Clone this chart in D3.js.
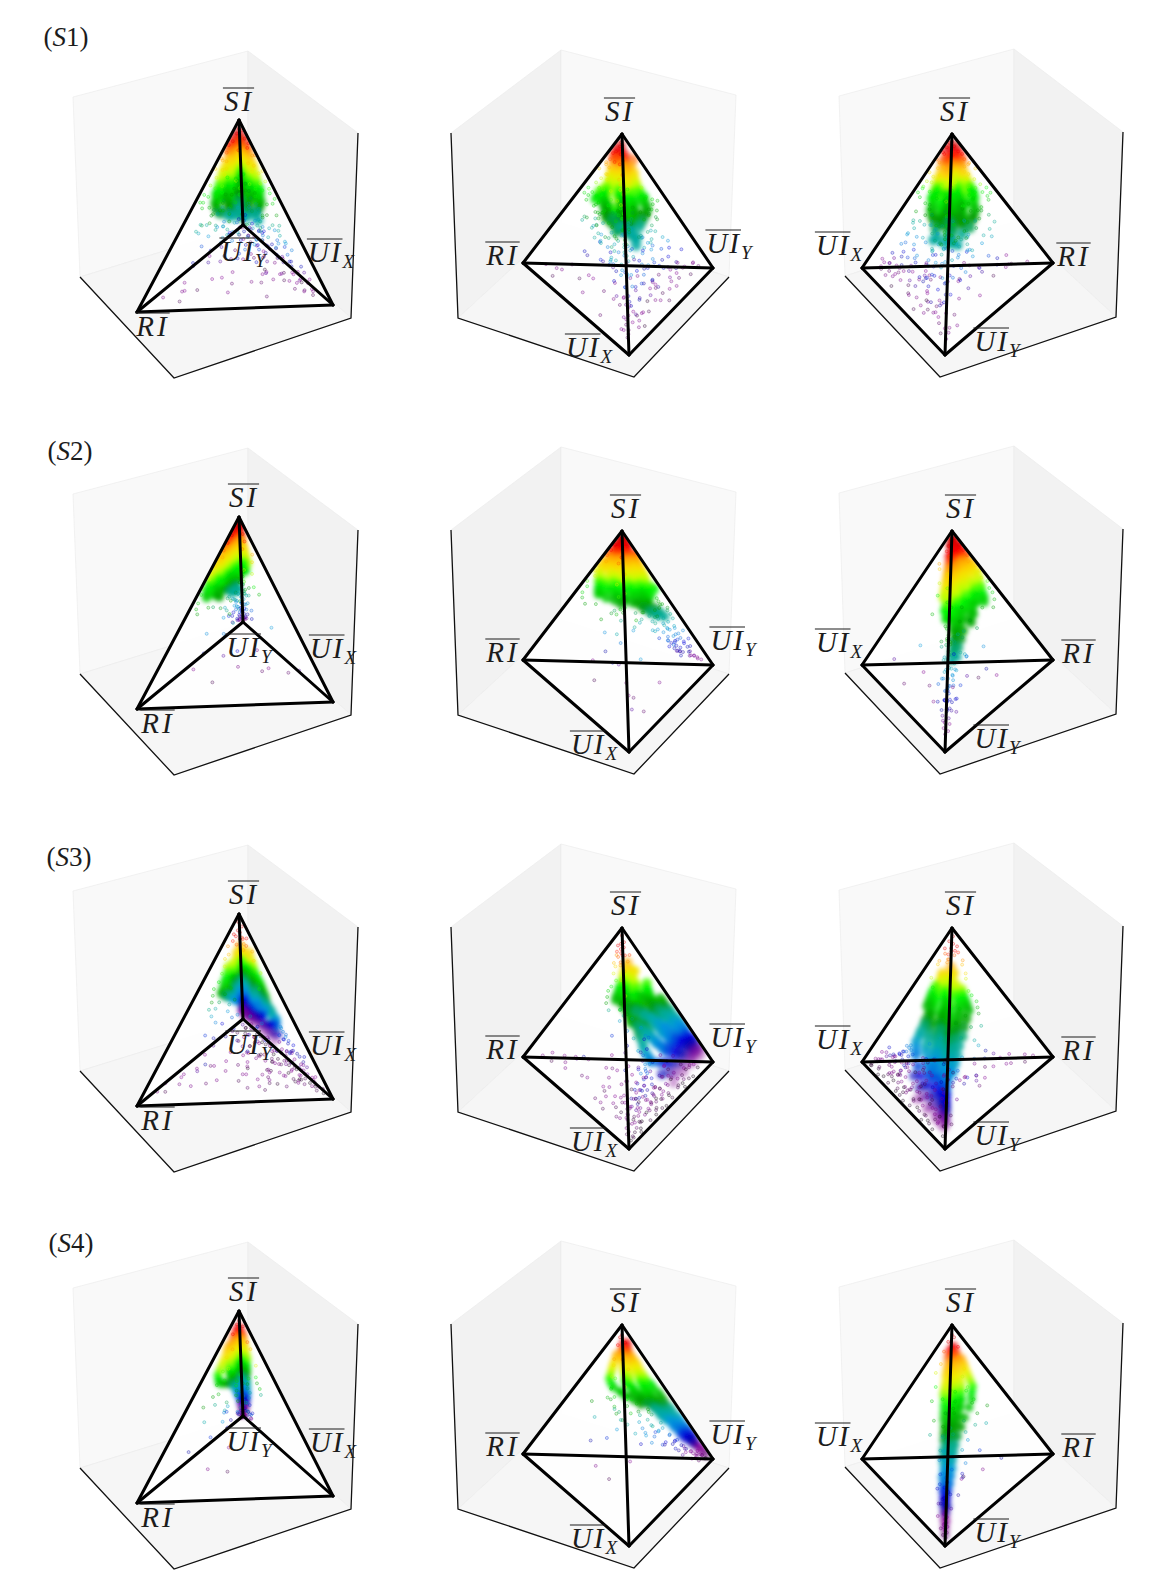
<!DOCTYPE html>
<html>
<head>
<meta charset="utf-8">
<script src="https://cdn.jsdelivr.net/npm/d3@7/dist/d3.min.js"></script>
<style>
  html, body { margin: 0; background: #fff; }
  text { font-family: "Liberation Serif", "Times New Roman", serif; fill: #1c1c1c; }
</style>
</head>
<body>
<div id="chart"></div>
<script>
// every row below is [SI, RI, UIX] in percent, UIY is what is left over
const s1Core = [[93,3,2],[91,2,6],[91,6,2],[89,4,4],[88,8,2],[88,2,9],[86,5,5],[86,9,3],[86,3,4],[84,8,6],[84,3,10],[84,11,2],[84,6,3],[84,4,7],
[82,6,6],[82,2,12],[82,12,2],[82,2,2],[82,9,3],[82,3,8],[78,7,7],[78,3,14],[78,14,4],[78,4,4],[78,10,9],[78,3,9],[78,9,3],[74,9,8],[74,3,16],[74,16,4],[74,4,5],[74,13,10],[74,4,11],[74,11,4],
[71,10,9],[71,3,18],[71,18,4],[71,5,6],[71,14,12],[71,5,13],[71,13,5],[68,11,10],[68,4,20],[68,20,4],[68,5,7],[68,16,14],[68,6,14],[68,14,6],[65,12,11],[65,4,22],[65,22,5],[65,6,7],[65,18,14],[65,6,16],[65,16,6],[65,10,20],[65,22,10],
[62,13,12],[62,5,24],[62,24,5],[62,6,7],[62,20,15],[62,7,17],[62,17,7],[62,9,9],[62,26,9],[62,9,26],[59,14,13],[59,5,26],[59,26,6],[59,6,8],[59,21,16],[59,8,18],[59,18,8],[59,11,11],[59,28,10],[59,10,28],
[57,14,14],[57,6,28],[57,28,6],[57,6,7],[57,22,16],[57,16,24],[57,7,18],[57,18,7],[57,10,10],[57,20,20],[57,30,10],[57,10,30],[54,15,15],[54,7,28],[54,28,7],[54,7,8],[54,23,17],[54,17,23],[54,8,19],[54,19,8],[54,11,11],[54,24,12],
[51,16,16],[51,7,30],[51,30,7],[51,7,8],[51,24,18],[51,18,24],[51,8,20],[51,20,8],[51,12,12],[48,17,17],[48,8,30],[48,30,8],[48,8,9],[48,25,18],[48,18,25],[48,9,21],[48,21,9],[48,12,12],
[45,18,18],[45,10,30],[45,30,10],[45,10,10],[45,24,18],[45,16,26],[45,12,22],[45,22,12],[42,18,18],[42,10,28],[42,28,10],[42,12,12],[42,20,24],[39,16,20],[39,10,26],[39,24,14],[39,14,14],[36,14,22],[36,10,30],[36,20,14]];
const s1Sparse = [[4,8,78],[6,5,70],[3,12,60],[8,10,72],[5,18,55],[7,6,62],[4,25,50],[9,14,58],[3,6,85],[6,10,80],[10,8,66],[5,30,45],[8,22,48],[4,40,35],[7,35,30],[9,50,25],[3,60,20],[6,70,15],[5,82,8],[8,65,12],[10,45,30],[4,15,30],[6,8,25],[8,12,15],[3,5,12],[5,10,8],[7,4,35],[9,6,20],[4,20,15],[6,28,20],[10,10,35],[12,15,45],[11,25,30],[13,8,55],[14,12,40],[12,38,20],[15,5,60],[13,30,12],[14,6,15],[11,5,28],[15,18,25],[12,10,18],[10,20,50],[13,45,15],[14,55,10],[15,8,38],[2,4,70],[3,8,55],[2,15,42],[5,5,84],[7,12,66],[4,30,62],[6,48,40],[3,75,18],[9,70,18],[8,4,6],[4,4,4],[6,14,4],[11,9,74],[12,5,50],[8,38,8],[5,3,76],[7,3,48],[9,4,66],[3,3,42],[6,3,30],[10,4,14],[8,6,84],[4,12,72],[3,10,34],[5,8,45],[7,16,28],[12,3,72],[13,4,42],[14,3,22],[11,14,60],[10,3,78],[9,12,38],[6,6,4],[4,8,18],[12,22,52],
[18,10,50],[20,15,35],[17,6,40],[22,8,28],[19,20,22],[16,30,30],[21,12,55],[24,5,45],[18,40,12],[20,6,18],[23,25,15],[25,10,35],[22,18,40],[26,35,18],[24,15,12],[27,8,50],[28,20,30],[19,8,62],[30,12,18],[29,30,8],[26,6,30],[28,5,12],[30,40,10],[27,15,45],[25,28,22],[23,45,8],[17,55,10],[21,38,25],[19,4,8],[24,8,60],[16,12,16],[26,22,6],[22,30,32],[18,24,44],[20,10,8],[28,12,52],[17,4,70],[19,12,30],[21,5,30],[23,10,14],[25,4,60],[27,24,18],[29,8,24],[16,8,64],[18,5,28],[20,22,12],[22,4,52],[24,26,34],[26,14,24],[28,3,40],[30,6,56],
[32,15,30],[34,8,40],[36,20,12],[33,25,25],[38,10,22],[35,30,15],[40,12,35],[37,6,15],[42,25,10],[39,18,30],[41,7,28],[44,14,18],[36,38,6],[43,30,5],[45,8,38],[34,12,10],[38,42,4],[40,5,48],[42,18,22],[44,35,8],[31,6,55],[33,45,5],[46,20,25],[47,6,12],[48,30,12],[32,35,20],[35,5,25],[37,28,30],[41,22,30],[43,6,8],[39,32,22],[46,4,44],[30,22,40],[34,18,44],[36,8,52],[48,12,38],[40,36,14],[44,10,6],[31,28,12],[38,16,40],[32,5,14],[34,22,18],[37,14,34],[42,5,16],[45,14,6],[35,12,20],[33,8,28],[40,20,10],[43,12,26],[47,24,8],
[50,35,6],[52,6,36],[54,30,10],[56,8,30],[58,28,6],[60,5,30],[55,38,3],[62,28,5],[65,5,28],[68,25,3],[70,3,24],[72,20,4],[75,4,20],[50,4,10],[55,3,6],[60,15,3],[65,3,8],[52,40,4],[54,4,40],[58,34,4],[60,3,36],[64,30,2],[66,2,30],
[50,30,15],[48,8,30],[52,25,18],[47,35,10],[46,12,38],[44,40,12],[53,32,12],[56,28,12],[54,12,30],[58,30,8],[57,10,28],[60,26,10],[61,8,26],[63,24,8],[64,10,22],[51,18,28],[49,28,20],[45,30,22],[43,22,32],[41,16,40],[39,38,16],[37,34,24],[35,14,46],[33,20,40],[42,44,8],[40,8,44],[38,48,6],[36,6,48],[55,22,20],[59,18,20],[62,16,18],[66,16,14],[69,20,6],[71,6,20],[73,18,6],[76,6,16],[77,16,4],[50,6,4],[48,3,8],[46,10,4],[44,3,12],[52,3,3],[54,8,4],[58,4,8],[47,18,4],[49,4,20],[43,20,4],[41,5,22],[39,22,5],[37,4,24],[35,26,4],[56,40,2],[57,2,40],[60,36,2],[62,2,34],
[78,18,2],[80,2,16],[82,14,2],[85,3,12],[88,8,2],[90,2,8],[92,4,2],[95,2,2],[84,8,8],[86,11,1],[94,1,4],[74,24,1],[72,1,26],[79,18,1],[81,1,18],[87,1,11]];

const s2Core = [[95,2,1],[95,1,1],[92,3,1],[92,1,2],[92,5,1],[89,4,1],[89,8,1],[89,2,1],[89,6,2],[86,6,1],[86,10,1],[86,3,2],[86,2,4],[86,7,3],[83,6,1],[83,11,1],[83,3,2],[83,14,1],[83,7,3],[83,2,4],[83,1,1],
[80,5,2],[80,10,2],[80,15,1],[80,3,2],[80,8,3],[80,2,5],[80,12,3],[80,1,2],[77,6,2],[77,12,2],[77,17,1],[77,3,2],[77,9,3],[77,2,6],[77,14,3],[77,20,1],[77,1,3],[74,6,2],[74,12,2],[74,18,2],[74,3,3],[74,9,4],[74,22,1],[74,2,7],[74,15,3],[74,1,4],
[71,7,2],[71,13,2],[71,20,2],[71,3,3],[71,10,4],[71,25,1],[71,2,8],[71,16,4],[71,1,4],[68,7,3],[68,13,3],[68,20,2],[68,3,3],[68,10,5],[68,27,1],[68,2,9],[68,16,4],[68,1,5],[65,5,3],[65,12,3],[65,20,2],[65,28,1],[65,8,5],[65,3,4],[65,16,5],[65,24,3],[65,2,10],
[62,8,3],[62,14,3],[62,22,2],[62,30,1],[62,4,4],[62,10,5],[62,18,4],[62,26,3],[62,3,8],[62,1,5],[59,8,3],[59,14,3],[59,22,2],[59,31,1],[59,4,5],[59,10,6],[59,18,5],[59,26,4],[59,3,9],[59,1,4],[56,10,3],[56,18,3],[56,26,2],[56,33,1],[56,6,5],[56,13,6],[56,22,5],[56,3,7],[56,30,5],
[53,14,4],[53,24,3],[53,34,2],[53,8,6],[53,18,7],[53,28,6],[53,11,2],[50,12,4],[50,22,3],[50,8,5],[50,16,6],[50,26,4],[47,10,4],[47,16,3],[47,12,6],[47,24,4],[44,8,3],[44,14,3],[44,10,6],[41,7,3],[41,12,3],[41,9,5],[38,6,3],[38,10,2]];
const s2Sparse = [[97,1,1],[95,3,1],[95,1,2],[90,8,1],[90,2,6],[86,12,1],[86,3,9],[82,16,1],[82,6,10],[78,2,16],[78,18,2],[74,24,1],[74,4,18],[70,28,1],[70,10,16],[66,30,1],[66,6,20],[62,36,1],[62,12,18],
[58,8,24],[58,38,1],[54,42,2],[54,14,20],[50,44,2],[50,18,20],[50,5,26],[48,8,14],[48,36,6],[46,20,12],[46,5,8],[46,44,3],[44,12,8],[44,28,10],[44,3,12],[42,6,10],[42,18,6],[42,30,4],[40,5,14],[40,14,10],[40,24,12],[38,8,6],[38,16,16],[36,4,10],[36,12,6],[34,8,14],[34,20,5],[32,5,8],[32,12,10],[30,8,4],[30,24,8],[28,3,10],[28,10,6],[26,6,12],[26,4,4],[24,10,5],[24,3,14],[22,6,8],[22,16,4],[20,3,6],[20,9,10],[18,5,8],[18,12,3],[16,4,4],[16,3,14],[14,8,6],[12,3,8],
[22,6,5],[20,4,4],[18,8,6],[16,3,3],[14,6,7],[12,5,3],[24,3,6],[10,3,5],[19,10,2],[15,2,8],[13,9,5],[11,2,6],[17,6,10],[21,2,2],[23,9,8],[9,6,3],[8,2,5],[7,4,2],[12,12,3],[16,10,6],[6,2,3],[34,6,3],[32,10,2],[30,4,4],[28,8,3],[36,3,2],[38,14,3],[26,5,5],[33,2,6],[30,12,6],[27,2,2],[40,2,3],[42,3,2],[36,8,2],[44,2,2],[53,2,5],[50,3,4],[48,2,4],[47,4,3],[45,5,4],
[12,35,20],[8,55,10],[6,12,30],[5,30,30],[4,8,60],[4,20,45],[3,50,25],[9,18,50],[15,45,10],[25,30,15],[30,6,40],[35,25,20],[46,28,20],[20,30,30],[28,40,8],[12,6,70]];

const s3Core = [[78,5,6],[74,4,8],[74,8,6],[74,2,12],[71,9,9],[71,5,5],[71,3,14],[68,6,9],[68,10,6],[68,3,16],[68,8,14],[65,6,9],[65,11,7],[65,3,17],[65,9,15],[65,14,4],
[62,6,10],[62,12,8],[62,3,18],[62,9,16],[62,16,5],[62,3,5],[62,6,24],[59,7,12],[59,14,8],[59,3,20],[59,10,18],[59,18,6],[59,4,6],[59,5,26],[59,2,10],[56,8,12],[56,15,8],[56,3,22],[56,11,18],[56,20,6],[56,4,7],[56,5,28],[56,2,12],
[53,8,14],[53,16,9],[53,3,24],[53,12,20],[53,22,7],[53,4,8],[53,5,30],[53,2,12],[53,10,6],[50,8,14],[50,17,9],[50,3,25],[50,12,20],[50,24,7],[50,4,8],[50,5,32],[50,2,14],[50,10,5],[50,2,4],[47,8,14],[47,15,9],[47,3,25],[47,11,22],[47,22,7],[47,4,8],[47,5,30],[47,2,14],[47,9,5],[47,2,4],
[44,7,14],[44,14,9],[44,3,26],[44,10,22],[44,20,7],[44,4,8],[44,4,32],[44,2,15],[44,8,5],[44,2,4],[41,7,13],[41,13,8],[41,3,26],[41,10,22],[41,18,6],[41,3,8],[41,4,34],[41,2,16],[41,7,4],[41,2,3],[38,6,14],[38,11,8],[38,3,27],[38,9,22],[38,15,6],[38,3,7],[38,3,36],[38,2,17],[38,6,4],[38,2,3],
[35,6,14],[35,10,8],[35,2,28],[35,8,22],[35,13,5],[35,3,7],[35,3,38],[35,2,18],[35,5,3],[35,1,3],[32,5,15],[32,9,8],[32,2,28],[32,7,22],[32,11,5],[32,3,7],[32,2,40],[32,2,18],[32,4,3],[32,1,3],[29,4,14],[29,7,8],[29,2,26],[29,6,22],[29,9,5],[29,2,7],[29,2,40],[29,1,18],[29,3,3],[29,1,3],
[26,4,14],[26,6,8],[26,2,26],[26,5,22],[26,3,7],[26,2,40],[26,1,18],[26,2,3],[26,1,3],[23,3,12],[23,5,8],[23,2,24],[23,4,18],[23,2,6],[23,1,36],[23,1,4],[23,2,3],[20,3,10],[20,4,6],[20,1,22],[20,3,16],[20,2,4],[20,1,32],[20,1,2],
[17,2,8],[17,3,5],[17,1,18],[17,3,13],[17,2,3],[17,1,28],[17,1,2],[17,1,40],[14,2,6],[14,3,4],[14,1,16],[14,2,10],[14,1,2],[14,1,24],[14,1,34],[11,2,5],[11,2,3],[11,1,12],[11,2,8],[11,1,1],[11,1,20],[11,1,30],[8,1,3],[8,1,8],[8,1,14],[8,1,24],[8,1,36]];
const s3Sparse = [[95,2,1],[92,1,4],[90,4,3],[88,7,2],[86,2,10],[84,9,3],[82,4,12],[80,12,1],[78,2,16],[76,14,4],[74,4,20],[72,16,2],[68,18,4],[66,3,26],[62,20,3],[58,24,4],[58,8,30],[54,28,3],[52,18,10],[50,30,4],[48,22,8],[46,32,5],[44,18,14],[42,26,6],[40,34,4],[38,20,10],[36,28,4],[34,14,26],[32,32,4],[30,20,8],[30,10,34],[28,16,14],[26,30,6],[24,18,10],[24,12,30],[22,40,6],[20,24,6],[20,12,40],[18,20,14],[18,6,60],[16,34,8],[16,10,50],[14,26,12],[14,8,64],[88,3,4],[85,5,6],[82,8,6],[80,3,8],[83,2,5],[79,6,11],[86,6,3],[84,3,7],
[24,1,50],[22,2,54],[20,1,58],[18,3,60],[17,1,52],[16,2,66],[15,1,62],[14,2,70],[13,1,56],[12,2,74],[26,2,48],[23,4,46],[21,3,50],[19,2,48],[27,1,44],[25,3,52],[28,2,46],[18,1,70],[16,4,58],[14,4,54],[11,1,42],[11,1,56],[11,2,70],[8,1,50],[8,1,66],[8,1,82],
[12,6,70],[12,14,30],[12,22,26],[12,36,10],[11,5,78],[11,10,60],[10,18,40],[10,30,22],[10,44,10],[10,4,82],[9,8,74],[9,14,50],[9,25,30],[9,2,60],[9,55,14],[8,4,70],[8,10,30],[8,20,52],[8,36,24],[8,2,46],[8,6,56],[8,14,18],[8,64,10],[7,3,82],[7,8,64],[7,16,44],[7,28,38],[7,2,30],[7,4,18],[7,44,20],[7,6,42],[6,4,58],[6,10,74],[6,20,28],[6,2,12],[6,34,40],[6,12,50],[6,50,30],[6,2,70],[6,5,36],
[5,3,88],[5,6,70],[5,14,62],[5,24,50],[5,2,50],[5,8,26],[5,40,28],[5,4,14],[5,70,12],[5,12,38],[4,2,82],[4,4,62],[4,10,44],[4,18,70],[4,30,30],[4,2,26],[4,6,10],[4,56,25],[4,3,42],[4,8,78],[3,1,90],[3,4,74],[3,8,52],[3,14,34],[3,24,58],[3,2,34],[3,38,40],[3,2,60],[3,6,20],[3,5,88],[3,16,14],[2,1,70],[2,3,84],[2,6,46],[2,10,70],[2,1,44],[2,16,50],[2,2,22],[2,26,36],[2,1,56],[2,4,30],[2,1,90],[2,8,12],[1,1,30],[1,2,62],[1,3,78],[1,5,40],[1,1,82],[1,8,60],[1,2,18],[1,1,52],[1,12,22],[1,2,92],[1,4,8],[3,80,8],[5,85,5],[8,78,6],[12,58,18],[6,66,20],[15,52,20],[10,68,12],[4,44,16],
[9,6,30],[9,10,66],[8,8,42],[8,16,60],[7,12,76],[7,20,30],[6,8,22],[6,14,64],[5,10,52],[5,18,36],[5,6,84],[4,14,24],[4,22,54],[4,5,52],[3,10,68],[3,18,48],[3,12,8],[2,12,34],[2,20,62],[2,6,72],[2,4,56],[1,6,70],[1,10,44],[1,4,26],[6,24,58],[7,30,52],[8,26,36],[9,34,44],[10,22,56],[5,32,56],[4,38,50],[3,30,60],[10,12,20],[11,18,10],[12,10,12],[13,22,20],[13,6,36],[15,14,24],[15,24,34],[16,6,24]];

const s4Core = [[88,2,2],[88,4,2],[85,3,3],[85,6,2],[85,2,5],[82,4,3],[82,8,2],[82,2,6],[82,6,5],[79,4,3],[79,9,3],[79,2,6],[79,6,5],[79,12,2],[76,5,3],[76,10,3],[76,2,7],[76,7,6],[76,14,2],[76,3,4],
[73,5,4],[73,11,3],[73,2,8],[73,8,6],[73,16,3],[73,3,4],[70,6,4],[70,12,4],[70,2,8],[70,9,6],[70,18,3],[70,3,5],[67,6,4],[67,13,4],[67,2,9],[67,9,7],[67,20,3],[67,3,5],[64,6,5],[64,14,4],[64,2,10],[64,10,7],[64,22,3],[64,3,5],
[61,7,5],[61,15,5],[61,3,10],[61,11,8],[61,24,3],[61,3,5],[58,7,5],[58,15,5],[58,3,10],[58,11,8],[58,24,4],[58,3,4],[55,7,6],[55,14,5],[55,3,10],[55,11,8],[55,24,4],[55,3,4],[55,18,9],[52,6,6],[52,13,5],[52,3,10],[52,10,8],[52,22,4],[52,2,4],[52,17,9],
[49,6,6],[49,12,5],[49,3,9],[49,9,8],[49,18,4],[49,2,4],[49,14,9],[46,5,6],[46,10,5],[46,3,9],[46,8,8],[46,15,4],[46,2,4],[46,12,9],[43,4,6],[43,9,5],[43,3,9],[43,7,8],[43,12,4],[43,2,4],[40,4,6],[40,8,5],[40,2,8],[40,6,8],[40,10,4],[40,2,3],
[37,4,6],[37,7,5],[37,2,8],[37,6,8],[37,9,4],[37,2,3],[34,3,5],[34,6,4],[34,2,8],[34,5,8],[34,8,4],[34,1,3],[31,3,5],[31,5,4],[31,2,7],[31,4,7],[31,7,3],[31,1,3],[28,3,5],[28,5,4],[28,1,7],[28,4,7],[28,6,3],[28,1,3],
[25,2,4],[25,4,3],[25,1,6],[25,3,7],[25,5,3],[25,1,2],[22,2,4],[22,4,3],[22,1,6],[22,3,7],[22,1,2],[19,2,4],[19,3,3],[19,1,5],[19,3,6],[19,1,2],[16,2,3],[16,3,2],[16,1,5],[16,2,5],[16,1,2],[13,1,3],[13,2,2],[13,1,4],[13,2,4],[10,1,2],[10,2,2],[10,1,4],[10,1,1],[7,1,2],[7,1,1],[7,1,3],[4,1,1],[4,1,2]];
const s4Sparse = [[94,2,2],[92,4,2],[90,1,5],[86,8,2],[82,3,12],[78,12,6],[76,2,14],[72,16,4],[68,4,22],[66,18,8],[62,20,4],[60,6,24],[58,22,8],[56,18,16],[54,26,4],[52,6,28],[50,20,18],[50,28,8],[48,2,20],[46,20,20],[46,30,4],[44,16,24],[42,24,12],[40,2,24],[40,30,6],[38,18,20],[36,26,12],[34,14,24],[32,20,8],[30,30,14],[30,12,20],[28,16,14],[26,22,6],[26,10,22],[24,14,12],[22,18,4],[22,8,18],[20,10,12],[18,24,12],[18,4,16],[16,10,8],[14,6,12],[14,16,6],[12,8,4],[12,4,14],[10,6,8],[10,30,20],[8,4,6],[8,2,12],[6,3,6],[6,50,20],[5,5,4],[4,3,2],[4,2,8],[3,1,4],[3,40,30],[2,2,2],[45,40,5],[35,42,8],[22,40,12],[15,55,5],
[60,12,14],[56,8,18],[54,14,12],[50,10,14],[48,16,14],[46,6,14],[44,12,14],[42,6,14],[40,14,12],[38,10,14],[36,4,14],[34,10,14],[32,5,14],[30,8,14],[28,10,12],[26,5,12],[24,7,10],[22,3,12],[20,6,10],[18,8,8],[16,5,9],[14,3,10],[12,6,7],[10,4,7],[9,5,5],[8,3,3],[7,3,5],[6,2,4],[5,2,3]];

const rowTags = ['S1', 'S2', 'S3', 'S4'];
const rowCores = [s1Core, s2Core, s3Core, s4Core];
const rowSparses = [s1Sparse, s2Sparse, s3Sparse, s4Sparse];
const vertexNames = ['SI', 'RI', 'UIX', 'UIY'];
const edges = [['SI','RI'],['SI','UIX'],['SI','UIY'],['RI','UIX'],['RI','UIY'],['UIX','UIY']];

// nipy_spectral stops
const spectralDomain = [0,.05,.1,.15,.2,.25,.3,.35,.4,.45,.5,.55,.6,.65,.7,.75,.8,.85,.9,.95,1];
const spectralRange = ['#000000','#770088','#880099','#0000aa','#0000dd','#0077dd','#0099dd','#00aaaa','#00aa88','#009900','#00bb00','#00dd00','#00ff00','#bbff00','#eeee00','#ffcc00','#ff9900','#ff0000','#dd0000','#cc0000','#cccccc'];

// layout: projected tetrahedron corners and box for each of the three views
const views = [
  { SI:[239,120], RI:[137,312], UIX:[333,305], UIY:[243,225],
    walls:[ {d:[[73,97],[248,51],[248,225],[80,277]], c:'#f9f9f9'}, {d:[[248,51],[358,133],[351,318],[248,225]], c:'#f2f2f2'}, {d:[[80,277],[248,225],[351,318],[174,378]], c:'#f6f6f6'} ],
    axis:[[80,277],[174,378],[351,318],[358,133]] },
  { SI:[622,134], RI:[523,263], UIX:[629,355], UIY:[713,268],
    walls:[ {d:[[451,133],[561,50],[561,223],[458,318]], c:'#f2f2f2'}, {d:[[561,50],[736,95],[729,277],[561,223]], c:'#f9f9f9'}, {d:[[458,318],[561,223],[729,277],[634,377]], c:'#f6f6f6'} ],
    axis:[[451,133],[458,318],[634,377],[729,277]] },
  { SI:[952,134], RI:[1053,263], UIX:[862,268], UIY:[945,355],
    walls:[ {d:[[839,96],[1014,49],[1014,222],[845,276]], c:'#f9f9f9'}, {d:[[1014,49],[1123,132],[1116,317],[1014,222]], c:'#f2f2f2'}, {d:[[845,276],[1014,222],[1116,317],[940,377]], c:'#f6f6f6'} ],
    axis:[[845,276],[940,377],[1116,317],[1123,132]] }
];
const rowOffsets = [0, 397, 794, 1191];
const tagPos = [[66,38],[70,452],[69,858],[71,1244]];
const coreRadius = [5.4, 5, 5.2, 4.4];
const topOpacity = [0.5, 0.95, 0.4, 0.65];
// label centres [x,y], first row sits a little left of the others
const labelsFirst = [
  {SI:[239,101],RI:[153,326],UIX:[331,252],UIY:[243,251]},
  {SI:[620,111],RI:[503,255],UIX:[589,347],UIY:[729,243]},
  {SI:[955,111],RI:[1074,256],UIX:[839,245],UIY:[997,341]}
];
const labelsRest = [
  {SI:[244,100],RI:[158,326],UIX:[333,251],UIY:[249,250]},
  {SI:[626,111],RI:[503,255],UIX:[594,347],UIY:[733,243]},
  {SI:[961,111],RI:[1079,256],UIX:[839,245],UIY:[997,341]}
];
const labelParts = { SI:['SI',''], RI:['RI',''], UIX:['UI','X'], UIY:['UI','Y'] };

const width = 1167, height = 1573;
const svg = d3.select('#chart').append('svg')
  .attr('width', width).attr('height', height).style('display', 'block');
const defs = svg.append('defs');
defs.append('filter').attr('id', 'soft')
  .attr('x', '-10%').attr('y', '-10%').attr('width', '120%').attr('height', '120%')
  .append('feGaussianBlur').attr('stdDeviation', 2);

const color = d3.scaleLinear().domain(spectralDomain).range(spectralRange);
const line = d3.line();

function addLabel(g, key, pos) {
  const [main, sub] = labelParts[key];
  const t = g.append('text').attr('y', pos[1] + 10).attr('font-size', 29)
    .attr('font-style', 'italic').style('letter-spacing', main === 'UI' ? '2px' : '3px');
  const m = t.append('tspan').text(main);
  const mainW = m.node().getComputedTextLength();
  let total = mainW;
  if (sub) {
    const s = t.append('tspan').attr('dy', 6).attr('font-size', 19).style('letter-spacing', 0).text(sub);
    total += s.node().getComputedTextLength();
  }
  const x0 = pos[0] - total / 2;
  t.attr('x', x0);
  g.append('line').attr('x1', x0 - 1).attr('x2', x0 + mainW)
    .attr('y1', pos[1] - 13).attr('y2', pos[1] - 13)
    .attr('stroke', '#1c1c1c').attr('stroke-width', 1.1);
}

rowTags.forEach((tag, r) => {
  const dy = rowOffsets[r];
  const tagText = svg.append('text').attr('x', tagPos[r][0]).attr('y', tagPos[r][1] + 8)
    .attr('font-size', 27).attr('text-anchor', 'middle');
  tagText.append('tspan').text('(');
  tagText.append('tspan').attr('font-style', 'italic').text('S');
  tagText.append('tspan').text(tag.slice(1) + ')');

  // the cloud thins out towards both ends of the SI range
  const coreOpacity = d3.scaleLinear().domain([8, 25, 70, 90]).range([0.35, 0.85, 0.85, topOpacity[r]]).clamp(true);

  views.forEach((v, c) => {
    const g = svg.append('g').attr('transform', `translate(0,${dy})`);

    v.walls.forEach(w => {
      g.append('path').attr('d', line(w.d) + 'Z').attr('fill', w.c)
        .attr('stroke', '#ececec').attr('stroke-width', 0.7);
    });
    g.append('path').attr('d', line(v.axis)).attr('fill', 'none')
      .attr('stroke', '#111').attr('stroke-width', 1.3);

    // one scale per corner: share of that corner -> pixels
    const sx = {}, sy = {};
    vertexNames.forEach(k => {
      sx[k] = d3.scaleLinear().domain([0, 100]).range([0, v[k][0]]);
      sy[k] = d3.scaleLinear().domain([0, 100]).range([0, v[k][1]]);
    });
    const project = row => {
      const w = { SI: row[0], RI: row[1], UIX: row[2], UIY: 100 - row[0] - row[1] - row[2] };
      return [d3.sum(vertexNames, k => sx[k](w[k])), d3.sum(vertexNames, k => sy[k](w[k]))];
    };

    const hull = d3.polygonHull(vertexNames.map(k => v[k]));
    const clipId = `clip-${r}-${c}`;
    defs.append('clipPath').attr('id', clipId).append('path').attr('d', line(hull) + 'Z');
    g.append('path').attr('d', line(hull) + 'Z').attr('fill', '#fff').attr('fill-opacity', 0.9);

    const clipped = g.append('g').attr('clip-path', `url(#${clipId})`);
    clipped.append('g').attr('filter', 'url(#soft)')
      .selectAll('circle').data(rowCores[r]).join('circle')
      .attr('cx', d => project(d)[0]).attr('cy', d => project(d)[1])
      .attr('r', coreRadius[r]).attr('fill', d => color(d[0] / 100)).attr('fill-opacity', d => coreOpacity(d[0]));
    clipped.append('g')
      .selectAll('circle').data(rowSparses[r]).join('circle')
      .attr('cx', d => project(d)[0]).attr('cy', d => project(d)[1])
      .attr('r', 1.5).attr('fill', d => color(d[0] / 100)).attr('fill-opacity', 0.15)
      .attr('stroke', d => color(d[0] / 100)).attr('stroke-opacity', 0.5).attr('stroke-width', 0.7);

    g.append('g').selectAll('path').data(edges).join('path')
      .attr('d', e => line([v[e[0]], v[e[1]]]))
      .attr('stroke', '#000').attr('stroke-width', 3).attr('stroke-linecap', 'round');

    const labels = (r === 0 ? labelsFirst : labelsRest)[c];
    vertexNames.forEach(k => addLabel(g, k, labels[k]));
  });
});
</script>
</body>
</html>
